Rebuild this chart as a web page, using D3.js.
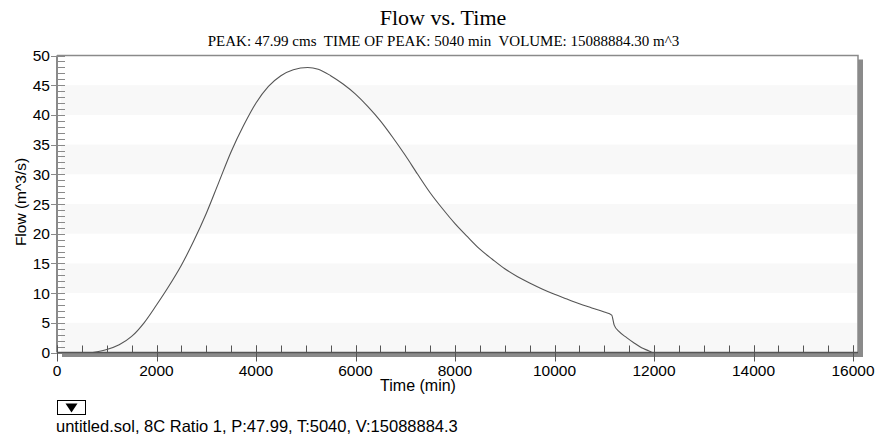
<!DOCTYPE html>
<html>
<head>
<meta charset="utf-8">
<script src="https://cdn.jsdelivr.net/npm/d3@7/dist/d3.min.js"></script>
<style>
  html, body { margin: 0; padding: 0; background: #fff; }
  svg { display: block; }
</style>
</head>
<body>
<svg id="chart" width="886" height="437"></svg>
<script>
// ---- data ----
const titleText = "Flow vs. Time";
const subtitleText = "PEAK: 47.99 cms  TIME OF PEAK: 5040 min  VOLUME: 15088884.30 m^3";
const xLabel = "Time (min)";
const yLabel = "Flow (m^3/s)";
const legendText = "untitled.sol, 8C Ratio 1, P:47.99, T:5040, V:15088884.3";

const times = [720, 1000, 1250, 1500, 1750, 2000, 2250, 2500, 2750, 3000, 3250, 3500, 3750, 4000, 4250, 4500, 4750, 5040, 5250, 5500, 5750, 6000, 6250, 6500, 6750, 7000, 7250, 7500, 7750, 8000, 8250, 8500, 8750, 9000, 9250, 9500, 9750, 10000, 10250, 10500, 10750, 11000, 11150, 11200, 11300, 11450, 11600, 11750, 11900, 11960];
const flows = [0, 0.5, 1.3, 2.7, 5.0, 8.0, 11.2, 14.7, 18.8, 23.4, 28.6, 33.8, 38.2, 42.0, 44.8, 46.6, 47.6, 47.99, 47.7, 46.6, 45.2, 43.5, 41.4, 39.0, 36.2, 33.2, 30.0, 26.9, 24.2, 21.7, 19.5, 17.4, 15.7, 14.1, 12.8, 11.7, 10.7, 9.8, 9.0, 8.2, 7.5, 6.8, 6.3, 4.6, 3.5, 2.5, 1.6, 0.8, 0.25, 0];

const xMajorTicks = [0, 2000, 4000, 6000, 8000, 10000, 12000, 14000, 16000];
const yMajorTicks = [0, 5, 10, 15, 20, 25, 30, 35, 40, 45, 50];
const xDomain = [0, 16000];
const yDomain = [0, 50];

(function () {
// ---- layout ----
const svg = d3.select("#chart");
const pL = 57, pR = 853, pT = 55.5, pB = 352.5, boxRight = 858;
const x = d3.scaleLinear().domain(xDomain).range([pL, pR]);
const y = d3.scaleLinear().domain(yDomain).range([pB, pT]);
const SANS = "Liberation Sans, Arial, sans-serif";
const SERIF = "Liberation Serif, Times New Roman, serif";

// shadow
svg.append("rect").attr("x", pL + 5).attr("y", pT + 4)
  .attr("width", boxRight - pL).attr("height", pB - pT)
  .attr("fill", "#8a8a8a");
// plot background
svg.append("rect").attr("x", pL).attr("y", pT)
  .attr("width", boxRight - pL).attr("height", pB - pT)
  .attr("fill", "#fff");
// alternating bands
const bandStarts = yMajorTicks.filter((d, i) => i % 2 === 0 && d < yDomain[1]);
svg.append("g").selectAll("rect").data(bandStarts).join("rect")
  .attr("x", pL + 4).attr("width", boxRight - pL - 5)
  .attr("y", d => y(d + 5)).attr("height", d => y(d) - y(d + 5))
  .attr("fill", "#f8f8f8");
// box border top/right
svg.append("path")
  .attr("d", `M${pL},${pT}H${boxRight}V${pB}`)
  .attr("fill", "none").attr("stroke", "#8a8a8a").attr("stroke-width", 1.5);

// y axis
const yMinor = d3.range(0, 51, 1);
const gy = svg.append("g");
gy.append("line").attr("x1", pL).attr("x2", pL).attr("y1", pT).attr("y2", pB)
  .attr("stroke", "#8a8a8a").attr("stroke-width", 2);
gy.selectAll(".ymin").data(yMinor).join("line")
  .attr("x1", pL).attr("x2", pL + 8)
  .attr("y1", d => Math.round(y(d)) + 0.5).attr("y2", d => Math.round(y(d)) + 0.5)
  .attr("stroke", "#8a8a8a").attr("stroke-width", 1);
gy.selectAll(".ymaj").data(yMajorTicks).join("line")
  .attr("x1", pL - 6).attr("x2", pL + 6)
  .attr("y1", d => Math.round(y(d)) + 0.5).attr("y2", d => Math.round(y(d)) + 0.5)
  .attr("stroke", "#8a8a8a").attr("stroke-width", 1);
gy.selectAll("text").data(yMajorTicks).join("text")
  .attr("x", pL - 7).attr("y", d => y(d)).attr("dy", "0.36em")
  .attr("text-anchor", "end")
  .attr("font-family", SANS).attr("font-size", 15.5)
  .text(d => d);

// x axis
const xMinor = d3.range(0, 16001, 500);
const gx = svg.append("g");
gx.append("rect").attr("x", pL + 5).attr("y", pB).attr("width", boxRight - pL).attr("height", 4.5)
  .attr("fill", "#8a8a8a");
gx.append("line").attr("x1", pL).attr("x2", boxRight).attr("y1", pB).attr("y2", pB)
  .attr("stroke", "#555").attr("stroke-width", 1.5);
gx.selectAll(".xmin").data(xMinor).join("line")
  .attr("x1", d => Math.round(x(d)) + 0.5).attr("x2", d => Math.round(x(d)) + 0.5)
  .attr("y1", pB - 7).attr("y2", pB)
  .attr("stroke", "#555").attr("stroke-width", 1);
gx.selectAll(".xmaj").data(xMajorTicks).join("line")
  .attr("x1", d => Math.round(x(d)) + 0.5).attr("x2", d => Math.round(x(d)) + 0.5)
  .attr("y1", pB - 7).attr("y2", pB + 9)
  .attr("stroke", "#555").attr("stroke-width", 1);
gx.selectAll("text").data(xMajorTicks).join("text")
  .attr("x", d => x(d)).attr("y", 375.5)
  .attr("text-anchor", "middle")
  .attr("font-family", SANS).attr("font-size", 15.5)
  .text(d => d);

// curve
const line = d3.line().x(d => x(d[0])).y(d => y(d[1])).curve(d3.curveMonotoneX);
svg.append("path").datum(times.map((t, i) => [t, flows[i]]))
  .attr("d", line).attr("fill", "none").attr("stroke", "#555").attr("stroke-width", 1.1);

// titles
svg.append("text").attr("x", 443).attr("y", 25).attr("text-anchor", "middle")
  .attr("font-family", SERIF).attr("font-size", 22)
  .text(titleText);
svg.append("text").attr("x", 443.5).attr("y", 46).attr("text-anchor", "middle")
  .style("white-space", "pre")
  .attr("font-family", SERIF).attr("font-size", 15)
  .text(subtitleText);
svg.append("text").attr("x", 418).attr("y", 391).attr("text-anchor", "middle")
  .attr("font-family", SANS).attr("font-size", 16)
  .text(xLabel);
svg.append("text").attr("transform", "translate(26,202) rotate(-90)").attr("text-anchor", "middle")
  .attr("font-family", SANS).attr("font-size", 15.5)
  .text(yLabel);

// legend
svg.append("rect").attr("x", 57.5).attr("y", 400.5).attr("width", 28).attr("height", 14)
  .attr("fill", "#fff").attr("stroke", "#000").attr("stroke-width", 1);
svg.append("path").attr("d", "M65.5,403.5 L77.5,403.5 L71.5,412.5 Z").attr("fill", "#000");
svg.append("text").attr("x", 56).attr("y", 432).attr("font-family", SANS)
  .attr("font-size", 16.5).text(legendText);
})();
</script>
</body>
</html>
